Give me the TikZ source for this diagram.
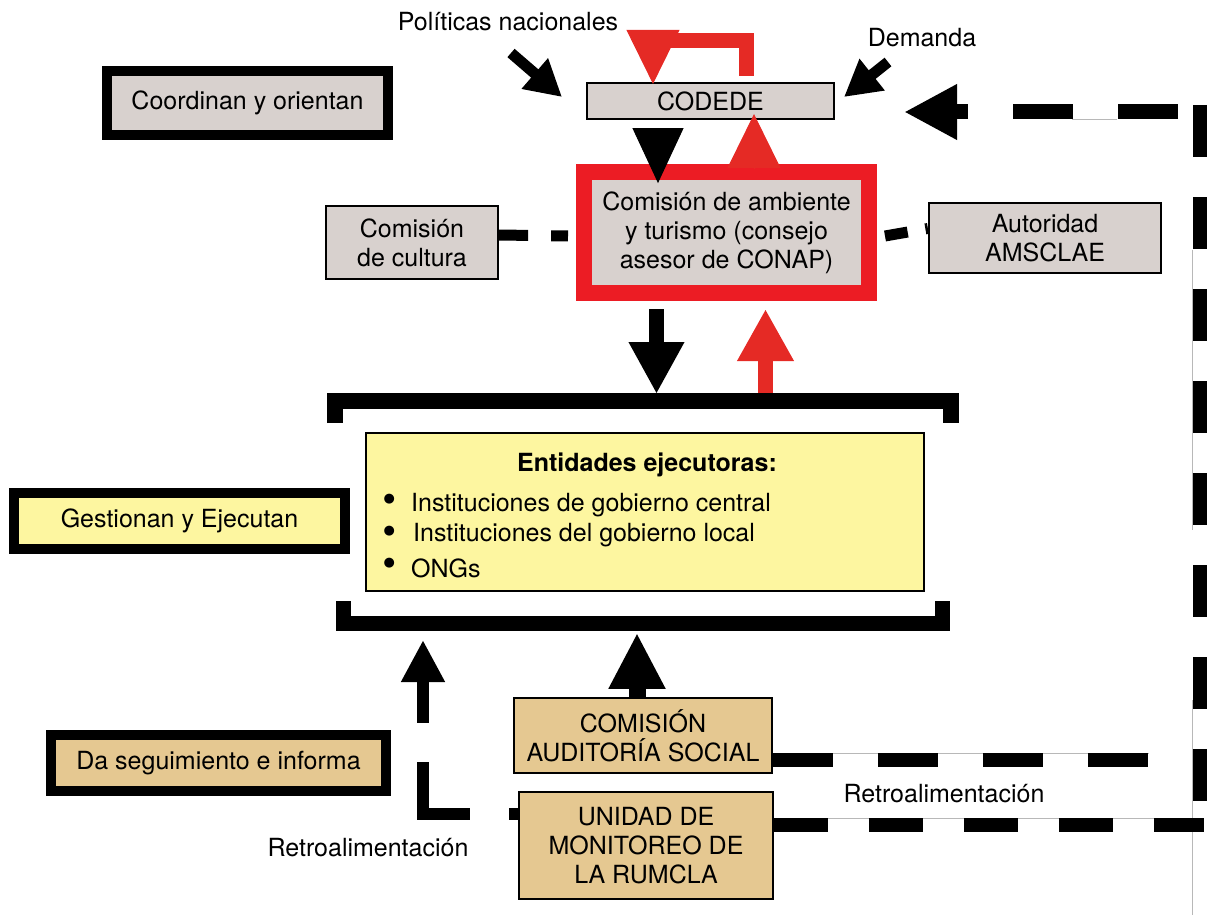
\documentclass[tikz,border=0pt]{standalone}
\usepackage{fontspec}
\setmainfont{TeX Gyre Heros}
\newfontfamily\symfont{DejaVu Sans}
\usetikzlibrary{arrows.meta}
\definecolor{boxgrey}{RGB}{216,209,206}
\definecolor{boxyellow}{RGB}{253,246,160}
\definecolor{boxtan}{RGB}{229,200,145}
\definecolor{framered}{RGB}{236,28,36}
\definecolor{arrowred}{RGB}{229,42,37}
\newcommand\itembul[2]{\makebox[0pt]{\smash{\raisebox{#1}{\symfont\fontsize{13}{13}\selectfont ●}}}\hspace{#2}}
\tikzset{
  legendbox/.style={draw=black, line width=10pt, inner sep=0pt, align=center},
  thinbox/.style={draw=black, line width=2.2pt, inner sep=0pt, align=center},
  lbl/.style={inner sep=0pt},
  ptrarrow/.style={draw=black, line width=11pt, -{Triangle[length=36pt,width=38pt]}},
  bigarrow/.style={draw=black, line width=15pt, -{Triangle[length=52pt,width=52pt]}},
  redarrow/.style={draw=arrowred, line width=15pt, -{Triangle[length=52pt,width=53pt]}},
  blacktri/.style={draw=black, line width=1pt, -{Triangle[length=55pt,width=51pt]}},
  redtri/.style={draw=arrowred, line width=1pt, -{Triangle[length=54pt,width=53pt]}},
  redloop/.style={draw=arrowred, line width=15pt},
  bracketline/.style={draw=black, line width=16pt, line join=miter},
  linkdash/.style={draw=black, line width=11pt},
  fbdash/.style={draw=black, line width=14pt},
  hair/.style={draw=black!28, line width=0.8pt},
}
\begin{document}
\begin{tikzpicture}[x=1pt, y=-1pt, font=\fontsize{25}{29}\selectfont]
\useasboundingbox (0,0) rectangle (1208,915);

% faint hairlines
\draw[hair] (1192,250) -- (1192,530);
\draw[hair] (1192,700) -- (1192,915);
\draw[hair] (1072,119) -- (1117,119);
\draw[hair] (772,753) -- (1149,753);
\draw[hair] (773,818) -- (1192,818);

% legend boxes
\node[legendbox, fill=boxgrey, minimum width=281pt, minimum height=64pt] (coord) at (247.5,103) {Coordinan y orientan};
\node[legendbox, fill=boxyellow, minimum width=331pt, minimum height=56pt] (gest) at (179.5,521) {Gestionan y Ejecutan};
\node[legendbox, fill=boxtan, minimum width=335pt, minimum height=56pt] (seg) at (218.5,763) {Da seguimiento e informa};

% main boxes
\node[thinbox, fill=boxgrey, minimum width=247pt, minimum height=36pt] (codede) at (710.5,101) {CODEDE};
\node[draw=framered, line width=16pt, fill=boxgrey, inner sep=0pt, align=center, minimum width=285pt, minimum height=121pt] (ambiente) at (726.5,232.5) {Comisión de ambiente\\y turismo (consejo\\asesor de CONAP)};
\node[thinbox, fill=boxgrey, minimum width=172pt, minimum height=73pt] (cultura) at (412,242.5) {Comisión\\de cultura};
\node[thinbox, fill=boxgrey, minimum width=232pt, minimum height=70pt] (amsclae) at (1045,238) {Autoridad\\AMSCLAE};

\node[thinbox, fill=boxyellow, minimum width=558pt, minimum height=158pt] (entidades) at (645,512) {};
\node[lbl, anchor=base] (titulo) at (647,471) {\bfseries Entidades ejecutoras:};
\node[lbl, anchor=north west, align=left] (items) at (389,493) {\itembul{9pt}{22pt}Instituciones de gobierno central\\[1pt]\itembul{7pt}{24pt}Instituciones del gobierno local\\[7pt]\itembul{11pt}{22pt}ONGs};

\node[thinbox, fill=boxtan, minimum width=258pt, minimum height=75pt] (comaud) at (643,735.5) {COMISIÓN\\AUDITORÍA SOCIAL};
\node[thinbox, fill=boxtan, minimum width=254pt, minimum height=107pt] (unidad) at (646,845.5) {UNIDAD DE\\MONITOREO DE\\LA RUMCLA};

% text labels
\node[lbl] (pol) at (508,22) {Políticas nacionales};
\node[lbl] (dem) at (922,38) {Demanda};
\node[lbl] (retroR) at (944,794) {Retroalimentación};
\node[lbl] (retroL) at (368,848) {Retroalimentación};

% brackets around the executing entities
\coordinate (brTL) at (335,423);
\coordinate (brTR) at (951,423);
\draw[bracketline] (brTL) -- (335,401) -- (951,401) -- (brTR);
\coordinate (brBL) at (343.5,601);
\coordinate (brBR) at (942.5,601);
\draw[bracketline, line width=15pt] (brBL) -- (343.5,623.5) -- (942.5,623.5) -- (brBR);

% input arrows to CODEDE
\coordinate (poltail) at (511,53);
\coordinate (poltip) at (562,97);
\draw[ptrarrow] (poltail) -- (poltip);
\coordinate (demtail) at (888,62);
\coordinate (demtip) at (844,97);
\draw[ptrarrow] (demtail) -- (demtip);

% red self loop on CODEDE
\coordinate (looptop) at (653,40.5);
\draw[redloop] ([xshift=35.5pt,yshift=6pt]codede.north) |- (looptop);
\draw[redtri] (653,33) -- ([xshift=-57.5pt,yshift=-2pt]codede.north);

% CODEDE <-> ambiente
\draw[blacktri] ([xshift=-52.5pt,yshift=-8pt]codede.south) -- ++(0,55);
\draw[redtri] ([xshift=27.5pt,yshift=-5pt]ambiente.north) -- ++(0,-55);

% ambiente <-> entidades
\draw[bigarrow] ([xshift=-70pt,yshift=-8pt]ambiente.south) -- ++(0,85);
\draw[redarrow] ([xshift=39pt,yshift=-92pt]ambiente.south) -- ([xshift=39pt,yshift=-8pt]ambiente.south);

% dashed links to side commissions
\draw[linkdash, dash pattern=on 29pt off 23pt] ([yshift=7.5pt]cultura.east) -- ([xshift=-8pt,yshift=-3.5pt]ambiente.west);
\draw[linkdash, dash pattern=on 23pt off 18pt] ([xshift=8pt,yshift=-3.5pt]ambiente.east) -- ([yshift=9.5pt]amsclae.west);

% comision auditoria -> entidades
\draw[draw=black, line width=17pt, -{Triangle[length=56pt,width=53pt]}] ([xshift=-6pt]comaud.north) -- ++(0,-64);

% left feedback (dashed L)
\coordinate (retrotip) at (423,640);
\draw[draw=black, line width=12pt, dash pattern=on 9pt off 39pt on 99pt off 39pt on 200pt, -{Triangle[length=42pt,width=41pt]}] ([yshift=31.5pt]unidad.west) -| (retrotip);

% right feedback loop to CODEDE
\coordinate (fbA) at (1149,760);
\coordinate (fbB) at (1204,825);
\coordinate (fbTop) at (1200,105);
\coordinate (fbBot) at (1200,805);
\coordinate (fbCorner) at (1193,112);
\draw[fbdash, dash pattern=on 60pt off 45pt] ([yshift=-24.5pt]comaud.east) -- (fbA);
\draw[fbdash, dash pattern=on 54pt off 41pt] ([yshift=20.5pt]unidad.east) -- (fbB);
\draw[fbdash, dash pattern=on 52pt off 40pt] (fbTop) -- (fbBot);
\draw[fbdash, line width=15pt, dash pattern=on 60pt off 45pt, dash phase=90pt, -{Triangle[length=53pt,width=52pt]}] (fbCorner) -- ([xshift=69pt,yshift=-11pt]codede.east);
\end{tikzpicture}
\end{document}
